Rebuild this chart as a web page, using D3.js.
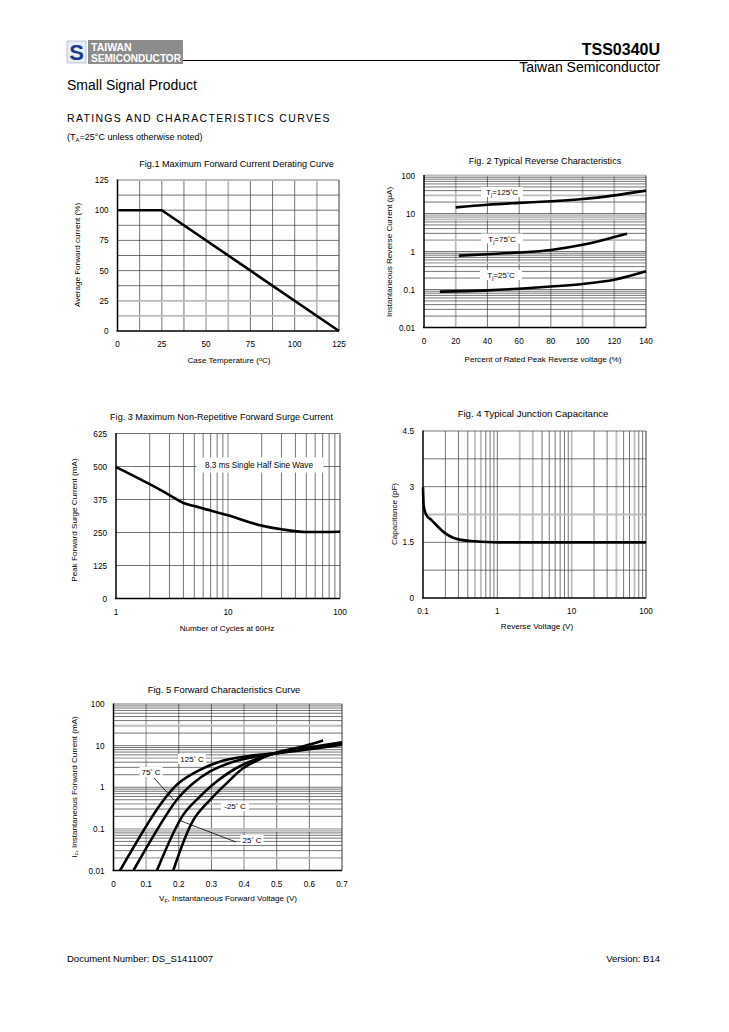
<!DOCTYPE html>
<html><head><meta charset="utf-8">
<script src="https://cdn.jsdelivr.net/npm/d3@7"></script>
<style>body{margin:0;background:#fff}svg{display:block;font-family:"Liberation Sans",Arial,sans-serif}</style>
</head><body><svg id="c" width="729" height="1032"></svg>
<script>
// ---------- DATA ----------
const fig1Temp = [0, 25, 125];
const fig1Current = [100, 100, 0];
const fig1Ticks = [0, 25, 50, 75, 100, 125];

const fig2Pct125 = [20, 40, 60, 80, 100, 120, 140];
const fig2Ir125 = [14.5, 17, 19, 21, 24, 30, 40];
const fig2Pct75 = [22, 40, 60, 80, 100, 120, 128];
const fig2Ir75 = [0.78, 0.85, 0.94, 1.1, 1.5, 2.4, 2.95];
const fig2Pct25 = [10, 40, 60, 80, 100, 120, 140];
const fig2Ir25 = [0.088, 0.095, 0.105, 0.12, 0.14, 0.18, 0.3];
const fig2XTicks = [0, 20, 40, 60, 80, 100, 120, 140];
const logTicksA = [0.01, 0.1, 1, 10, 100];

const fig3Cycles = [1, 2, 3, 4, 5, 7, 10, 20, 30, 50, 70, 100];
const fig3Surge = [498, 433, 392, 362, 350, 333, 315, 276, 262, 252, 252, 253];
const fig3YTicks = [0, 125, 250, 375, 500, 625];
const fig3XTicks = [1, 10, 100];

const fig4Vr = [0.1, 0.102, 0.11, 0.13, 0.15, 0.2, 0.25, 0.3, 0.5, 1, 10, 100];
const fig4Cap = [2.98, 2.5, 2.25, 2.1, 1.97, 1.74, 1.63, 1.58, 1.53, 1.5, 1.5, 1.5];
const fig4YTicks = [0, 1.5, 3, 4.5];
const fig4XTicks = [0.1, 1, 10, 100];

const fig5V125 = [0.02, 0.143, 0.2, 0.26, 0.316, 0.367, 0.42, 0.5, 0.6, 0.7];
const fig5I125 = [0.01, 0.38, 1.26, 2.5, 3.9, 4.9, 5.7, 6.6, 8.2, 10.5];
const fig5V75 = [0.061, 0.194, 0.245, 0.296, 0.367, 0.45, 0.5, 0.6, 0.7];
const fig5I75 = [0.01, 0.5, 1.26, 2.4, 4.1, 5.8, 6.6, 8.8, 11.5];
const fig5V25 = [0.133, 0.214, 0.265, 0.316, 0.377, 0.45, 0.5, 0.6, 0.7];
const fig5I25 = [0.01, 0.22, 0.6, 1.37, 2.9, 5.2, 6.6, 9.0, 12];
const fig5Vm25 = [0.183, 0.245, 0.296, 0.347, 0.398, 0.45, 0.5, 0.58, 0.642];
const fig5Im25 = [0.01, 0.165, 0.5, 1.26, 2.9, 4.8, 6.8, 9.5, 13.2];
const fig5XTicks = [0, 0.1, 0.2, 0.3, 0.4, 0.5, 0.6, 0.7];

// ---------- DRAW ----------
const svg = d3.select("#c");
svg.append("rect").attr("width", 729).attr("height", 1032).attr("fill", "#fff");

const DARK = "#3a3a3a", LIGHT = "#bdbdbd";

// header
const logo = svg.append("g");
logo.append("rect").attr("x", 67).attr("y", 41).attr("width", 19).attr("height", 22).attr("fill", "#e8ecf4").attr("stroke", "#9aa4bf").attr("stroke-width", 0.6);
logo.append("text").attr("x", 76.5).attr("y", 60).attr("text-anchor", "middle").attr("font-size", 22).attr("font-weight", "bold").attr("fill", "#1d3a8a").text("S");
logo.append("rect").attr("x", 88).attr("y", 40).attr("width", 95).attr("height", 24).attr("fill", "#8c8c8c");
logo.append("text").attr("x", 91).attr("y", 51).attr("font-size", 10.5).attr("font-weight", "bold").attr("fill", "#fff").text("TAIWAN");
logo.append("text").attr("x", 91).attr("y", 62).attr("font-size", 10.5).attr("font-weight", "bold").attr("fill", "#fff")
  .attr("textLength", 90).attr("lengthAdjust", "spacingAndGlyphs").text("SEMICONDUCTOR");
svg.append("line").attr("x1", 183).attr("x2", 660).attr("y1", 60.5).attr("y2", 60.5).attr("stroke", "#000").attr("stroke-width", 1);
svg.append("text").attr("x", 660).attr("y", 55).attr("text-anchor", "end").attr("font-size", 16).attr("font-weight", "bold").text("TSS0340U");
svg.append("text").attr("x", 660).attr("y", 72).attr("text-anchor", "end").attr("font-size", 14).text("Taiwan Semiconductor");
svg.append("text").attr("x", 67).attr("y", 90).attr("font-size", 14).text("Small Signal Product");
svg.append("text").attr("x", 67).attr("y", 122).attr("font-size", 10.5).attr("letter-spacing", 1.32).text("RATINGS AND CHARACTERISTICS CURVES");
const tn = svg.append("text").attr("x", 67).attr("y", 140).attr("font-size", 9);
tn.append("tspan").text("(T");
tn.append("tspan").attr("font-size", 6).attr("dy", 2).text("A");
tn.append("tspan").attr("dy", -2).text("=25°C unless otherwise noted)");
svg.append("text").attr("x", 67).attr("y", 962).attr("font-size", 9.5).text("Document Number: DS_S1411007");
svg.append("text").attr("x", 660).attr("y", 962).attr("text-anchor", "end").attr("font-size", 9.5).text("Version: B14");

function vline(g, x, y0, y1, light) {
  g.append("line").attr("x1", x).attr("x2", x).attr("y1", y0).attr("y2", y1)
    .attr("stroke", light ? LIGHT : DARK).attr("stroke-width", light ? 1.8 : 0.7);
}
function hline(g, y, x0, x1, light) {
  g.append("line").attr("x1", x0).attr("x2", x1).attr("y1", y).attr("y2", y)
    .attr("stroke", light ? LIGHT : DARK).attr("stroke-width", light ? 1.8 : 0.7);
}
function logGrid(domain) {
  const out = [];
  for (let e = Math.round(Math.log10(domain[0])); e < Math.round(Math.log10(domain[1])); e++) {
    for (let k = 2; k <= 9; k++) out.push(+(k * Math.pow(10, e)).toPrecision(3));
    if (e > Math.round(Math.log10(domain[0]))) out.push(+Math.pow(10, e).toPrecision(3));
  }
  return out;
}
const near = (arr, v) => arr.some(a => Math.abs(a - v) / Math.max(Math.abs(v), 1e-9) < 1e-6);

function panel(o) {
  const g = svg.append("g");
  const x = o.x, y = o.y;
  const [L, R] = x.range(), [B, T] = y.range();
  o.xGrid.forEach(v => vline(g, x(v), T, B, near(o.xLight || [], v)));
  o.yGrid.forEach(v => hline(g, y(v), L, R, near(o.yLight || [], v)));
  hline(g, T, L, R, !!o.topLight);
  g.append("line").attr("x1", R).attr("x2", R).attr("y1", T).attr("y2", B).attr("stroke", DARK).attr("stroke-width", 1);
  g.append("line").attr("x1", L).attr("x2", L).attr("y1", T - 0.5).attr("y2", B).attr("stroke", "#000").attr("stroke-width", 1.5);
  g.append("line").attr("x1", L - 1).attr("x2", R).attr("y1", B).attr("y2", B).attr("stroke", "#000").attr("stroke-width", 1.5);
  const fmt = o.fmt || (d => String(d));
  o.xTicks.forEach(v => g.append("text").attr("x", x(v)).attr("y", B + 16).attr("text-anchor", "middle").attr("font-size", 8.2).text(fmt(v)));
  o.yTicks.forEach(v => g.append("text").attr("x", L - 9).attr("y", y(v) + 3).attr("text-anchor", "end").attr("font-size", 8.2).text(String(v)));
  g.append("text").attr("x", o.title[1]).attr("y", o.title[2]).attr("text-anchor", "middle").attr("font-size", o.title[3] || 9.1).text(o.title[0]);
  const xl = g.append("text").attr("x", o.xlab[1]).attr("y", o.xlab[2]).attr("text-anchor", "middle").attr("font-size", 8.1);
  if (typeof o.xlab[0] === "string") xl.text(o.xlab[0]); else o.xlab[0](xl);
  const yl = g.append("text").attr("transform", `translate(${o.ylab[1]},${o.ylab[2]}) rotate(-90)`).attr("text-anchor", "middle").attr("font-size", 8.1);
  if (typeof o.ylab[0] === "string") yl.text(o.ylab[0]); else o.ylab[0](yl);
  return g;
}
function curve(g, xs, ys, x, y, c) {
  const pts = xs.map((v, i) => [x(v), y(ys[i])]);
  g.append("path").attr("d", d3.line().curve(c || d3.curveMonotoneX)(pts))
    .attr("fill", "none").attr("stroke", "#000").attr("stroke-width", 2.6).attr("stroke-linecap", "butt");
}
function box(g, cx, cy, w, h) {
  g.append("rect").attr("x", cx - w / 2).attr("y", cy - h / 2).attr("width", w).attr("height", h).attr("fill", "#fff");
}

// ---- Fig 1 ----
{
  const x = d3.scaleLinear().domain([0, 125]).range([117.5, 339]);
  const y = d3.scaleLinear().domain([0, 125]).range([331, 180]);
  const grid = d3.range(12.5, 125, 12.5);
  const g = panel({x, y, xGrid: grid, yGrid: grid, xLight: [50, 62.5, 112.5], yLight: [25, 12.5], topLight: true,
    xTicks: fig1Ticks, yTicks: fig1Ticks,
    title: ["Fig.1 Maximum Forward Current Derating Curve", 236.5, 167],
    xlab: [t => { t.text("Case Temperature ("); t.append("tspan").attr("font-size", 5.5).attr("dy", -2).text("o"); t.append("tspan").attr("dy", 2).text("C)"); }, 229, 363],
    ylab: ["Average Forward current (%)", 80, 255]});
  curve(g, fig1Temp, fig1Current, x, y, d3.curveLinear);
}

// ---- Fig 2 ----
{
  const x = d3.scaleLinear().domain([0, 140]).range([424, 646]);
  const y = d3.scaleLog().domain([0.01, 100]).range([327.5, 175.5]);
  const g = panel({x, y, xGrid: d3.range(20, 140, 20), yGrid: logGrid([0.01, 100]),
    xLight: [20, 100, 120], yLight: [30, 7, 8, 9, 2, 0.5], topLight: true,
    xTicks: fig2XTicks, yTicks: logTicksA,
    title: ["Fig. 2 Typical Reverse Characteristics", 545, 163.5],
    xlab: ["Percent of Rated Peak Reverse voltage (%)", 543, 362],
    ylab: [t => { t.text("Instantaneous Reverse Current (µA)"); }, 392, 252]});
  curve(g, fig2Pct125, fig2Ir125, x, y);
  curve(g, fig2Pct75, fig2Ir75, x, y);
  curve(g, fig2Pct25, fig2Ir25, x, y);
  const lab = (txt, cx, cy) => {
    box(g, cx, cy, 42, 10);
    const t = g.append("text").attr("x", cx).attr("y", cy + 3).attr("text-anchor", "middle").attr("font-size", 8);
    t.append("tspan").text("T"); t.append("tspan").attr("font-size", 5).attr("dy", 2).text("j");
    t.append("tspan").attr("dy", -2).text("=" + txt); t.append("tspan").attr("font-size", 5).attr("dy", -2).text("°");
    t.append("tspan").attr("dy", 2).text("C");
  };
  lab("125", 502, 192);
  lab("75", 502, 238.5);
  lab("25", 501, 275);
}

// ---- Fig 3 ----
{
  const x = d3.scaleLog().domain([1, 100]).range([116, 340]);
  const y = d3.scaleLinear().domain([0, 625]).range([598.5, 433.5]);
  const g = panel({x, y, xGrid: logGrid([1, 100]), yGrid: [125, 250, 375, 500], xLight: [10],
    xTicks: fig3XTicks, yTicks: fig3YTicks,
    title: ["Fig. 3 Maximum Non-Repetitive Forward Surge Current", 221.5, 420],
    xlab: ["Number of Cycles at 60Hz", 227, 631],
    ylab: ["Peak Forward Surge Current (mA)", 77, 520]});
  box(g, 260, 465, 127, 15);
  g.append("text").attr("x", 259).attr("y", 468).attr("text-anchor", "middle").attr("font-size", 8.2).text("8.3 ms Single Half Sine Wave");
  curve(g, fig3Cycles, fig3Surge, x, y);
}

// ---- Fig 4 ----
{
  const x = d3.scaleLog().domain([0.1, 100]).range([423, 646]);
  const y = d3.scaleLinear().domain([0, 4.5]).range([598, 431]);
  const g = panel({x, y, xGrid: logGrid([0.1, 100]), yGrid: [0.75, 1.5, 2.25, 3, 3.75],
    xLight: [0.5, 0.6, 2, 3, 10, 40, 70], yLight: [2.25],
    xTicks: fig4XTicks, yTicks: fig4YTicks,
    title: ["Fig. 4 Typical Junction Capacitance", 533, 417, 9.6],
    xlab: ["Reverse Voltage (V)", 537, 629],
    ylab: ["Capacitance (pF)", 397, 514]});
  curve(g, fig4Vr, fig4Cap, x, y);
}

// ---- Fig 5 ----
{
  const x = d3.scaleLinear().domain([0, 0.7]).range([113.5, 342]);
  const y = d3.scaleLog().domain([0.01, 100]).range([870.5, 704]);
  const g = panel({x, y, xGrid: d3.range(1, 7).map(i => i / 10), yGrid: logGrid([0.01, 100]),
    xLight: [0.1, 0.4], yLight: [30, 5, 0.4, 0.1, 0.09, 0.02],
    xTicks: fig5XTicks, yTicks: logTicksA,
    title: ["Fig. 5 Forward Characteristics Curve", 224, 693, 9.4],
    xlab: [t => { t.text("V"); t.append("tspan").attr("font-size", 5).attr("dy", 2).text("F"); t.append("tspan").attr("dy", -2).text(", Instantaneous Forward Voltage (V)"); }, 228, 901],
    ylab: [t => { t.text("I"); t.append("tspan").attr("font-size", 5).attr("dy", 2).text("F"); t.append("tspan").attr("dy", -2).text(", Instantaneous Forward Current (mA)"); }, 77, 787]});
  const lab = (txt, cx, cy) => {
    box(g, cx, cy, txt.length * 5 + 13, 10);
    const t = g.append("text").attr("x", cx).attr("y", cy + 3).attr("text-anchor", "middle").attr("font-size", 8);
    t.append("tspan").text(txt); t.append("tspan").attr("font-size", 5).attr("dy", -2.5).text("°");
    t.append("tspan").attr("dy", 2.5).text(" C");
  };
  lab("125", 192, 759);
  lab("75", 151, 772);
  lab("-25", 235, 806);
  lab("25", 252, 840);
  g.append("line").attr("x1", 154).attr("y1", 778).attr("x2", 174).attr("y2", 800).attr("stroke", "#000").attr("stroke-width", 0.8);
  g.append("line").attr("x1", 181).attr("y1", 821).attr("x2", 236).attr("y2", 842).attr("stroke", "#000").attr("stroke-width", 0.8);
  const cr = d3.curveCatmullRom.alpha(0.5);
  curve(g, fig5V125, fig5I125, x, y, cr);
  curve(g, fig5V75, fig5I75, x, y, cr);
  curve(g, fig5V25, fig5I25, x, y, cr);
  curve(g, fig5Vm25, fig5Im25, x, y, cr);
}
</script></body></html>
